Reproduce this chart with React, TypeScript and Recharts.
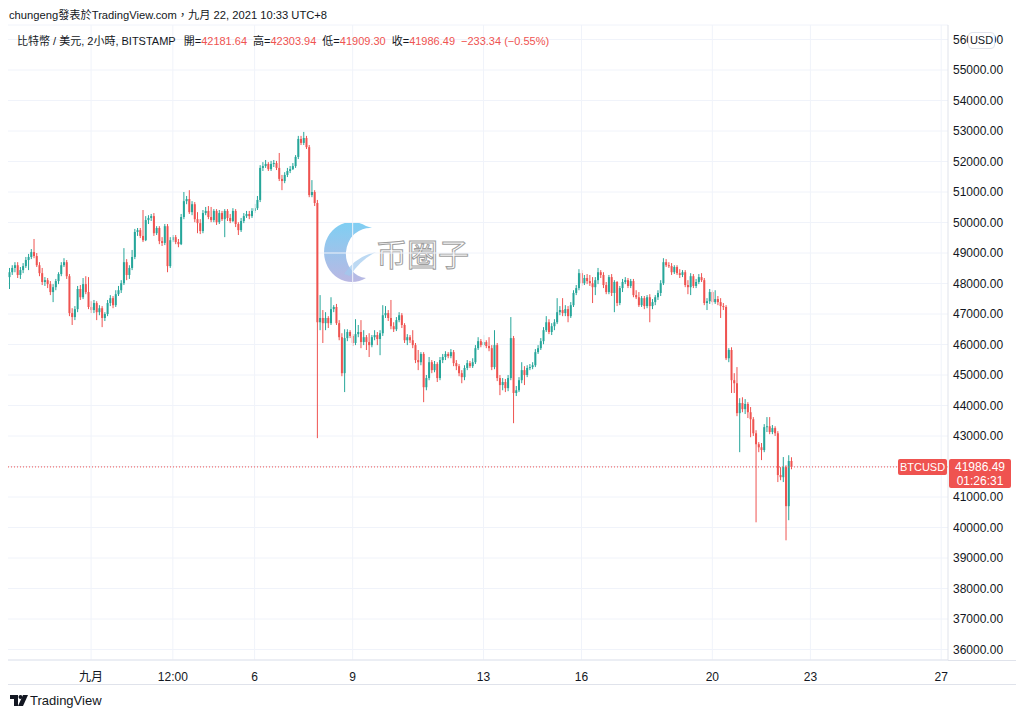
import React from 'react';
import { ComposedChart, Bar, XAxis, YAxis, CartesianGrid, ReferenceLine } from 'recharts';

const UP = '#26a69a';
const DOWN = '#ef5350';
const GRID = '#f0f3fa';
const TEXT = '#131722';
const FONT = '"Liberation Sans", "Noto Sans CJK TC", Arial, sans-serif';

// bar index 0 = 九月 1, 00:00 (2-hour bars)
const firstBar = -30;
const lastSlot = 314;

const opens = [
  48210,48370,48510,48600,48280,48440,48570,48770,48870,49030,
  48900,48600,48340,48050,48110,47980,47720,47880,48080,48310,
  48600,48700,48240,47030,46900,47160,47820,47550,47980,47720,
  47230,47130,47360,47060,47190,46870,47000,47360,47520,47290,
  47650,47780,48010,48700,48280,48510,48870,49690,49750,49560,
  49420,50080,50150,50210,49650,49820,49390,49330,49880,48570,
  49420,49520,49360,49290,50180,50700,50770,50340,50600,50110,
  49980,49720,50310,50380,50180,50080,50380,50010,50310,50110,
  50380,50150,50050,50380,49950,49750,50050,50210,50280,50210,
  50380,50470,50740,51790,51850,51920,51750,51920,51950,51790,
  51430,51360,51560,51690,51750,51850,52150,52740,52610,52770,
  52470,50900,51000,50640,46730,46870,46700,46870,46700,47160,
  47230,46700,46240,45060,46210,46410,46280,46050,46340,46410,
  46080,46240,46080,45980,46240,46310,46180,46370,46960,47030,
  46870,46600,46500,46800,46960,46640,46140,46240,46140,45980,
  45490,45420,45690,44600,44900,45420,45160,45360,44900,45490,
  45590,45690,45620,45750,45390,45290,45060,44930,45230,45390,
  45290,45420,45880,46110,45980,46080,45950,45880,45260,45980,
  44900,44670,44770,44570,44900,46210,44410,44500,44830,45160,
  45000,45230,45260,45320,45750,45880,46110,46470,46730,46410,
  46600,46730,47060,47130,47030,47160,46930,47290,47690,47850,
  48340,48010,48180,48080,48010,47880,48110,48370,48280,47950,
  47720,48210,47690,48050,47360,47850,48050,48110,47920,48080,
  47620,47550,47290,47520,47260,47550,47260,47390,47550,47690,
  48010,48700,48600,48570,48370,48540,48340,48280,48370,47950,
  47880,48240,47920,48050,48210,48110,47360,47420,47720,47390,
  47490,47390,47260,47230,45550,45820,44830,44730,43750,44080,
  43880,44050,43780,43550,43090,42730,42630,42540,43290,43320,
  43130,43260,43090,41720,41650,41980,40700,42181.64,
];

const highs = [
  48510,48600,48700,48700,48540,48670,48870,48970,49130,49460,
  49000,48700,48510,48210,48180,48080,47980,48150,48370,48700,
  48830,48770,48310,47190,47260,47920,47950,48180,48240,48210,
  47420,47460,47420,47290,47260,47060,47460,47620,47590,47780,
  47920,48110,49160,48800,48600,49100,49790,49820,49820,50410,
  50210,50240,50280,50310,49880,49880,49520,49950,49950,49520,
  49590,49590,49460,50280,51000,50870,51060,50700,50670,50340,
  50110,50410,50510,50540,50510,50440,50440,50410,50380,50440,
  50440,50280,50470,50440,50010,50150,50310,50380,50380,50470,
  50610,50870,51880,51980,52050,51980,52020,52050,52020,52280,
  51560,51650,51790,51850,51950,52210,52840,52840,52970,52840,
  52540,51390,51060,50740,47620,47130,47060,46930,47550,47290,
  47330,46800,46370,46500,46500,46470,46340,46830,46640,46800,
  46470,46310,46370,46310,46470,46410,46470,47290,47260,47130,
  47460,46730,46900,47060,47030,46700,46340,46310,46470,46050,
  45820,45750,45750,45000,45590,45490,45460,45420,45590,45690,
  45780,45750,45850,45820,45490,45360,45160,45320,45490,45460,
  45550,45980,46240,46180,46310,46140,46240,45980,46470,46050,
  45000,44900,44870,45000,46900,46280,44640,44930,45420,45290,
  45320,45360,45420,45850,45980,46210,46570,46930,46830,46700,
  46830,47520,47260,47520,47290,47260,47390,47780,47950,48470,
  48440,48280,48310,48280,48210,48210,48510,48440,48370,48050,
  48280,48310,48110,48080,47920,48150,48210,48180,48150,48150,
  47780,47720,47590,47590,47620,47650,47490,47620,47780,48110,
  48830,48800,48700,48670,48600,48600,48470,48440,48440,48110,
  48340,48310,48150,48310,48340,48180,47520,47820,47780,47780,
  47590,47520,47360,47290,45880,45910,45060,45260,44240,44270,
  44210,44110,43950,43620,43190,42800,42770,43390,43620,43620,
  43360,43320,43160,41980,42310,42040,42370,42303.94,
];

const lows = [
  47820,48280,48370,48180,48150,48340,48510,48440,48800,48830,
  48540,48240,47950,47920,47850,47620,47390,47780,47980,48240,
  48540,48150,46930,46640,46800,47060,47460,47490,47650,47160,
  47030,47030,46800,46960,46570,46770,46930,47260,47190,47230,
  47590,47690,47950,48110,48150,48440,48800,49560,49490,49360,
  49390,49950,50050,49560,49590,49290,49230,49260,48370,48510,
  49360,49290,49190,49260,50110,50600,50280,50240,50010,49650,
  49620,49650,50240,50110,50010,50010,49920,49950,50050,49520,
  50050,49980,50010,49850,49590,49690,49980,50150,50110,50150,
  50310,50410,50670,51690,51790,51690,51690,51820,51720,51360,
  51060,51290,51490,51620,51720,51790,52080,52540,52540,52410,
  50830,50830,50540,42930,46470,46050,46470,46540,46640,47060,
  46640,46140,44960,44440,46110,46210,45950,45980,46240,45880,
  45980,45820,45590,45910,46140,45980,45650,46280,46870,46770,
  46500,46410,46440,46730,46540,46050,45980,46050,45880,45390,
  45160,45320,44110,44500,44830,45060,45090,44770,44830,45390,
  45490,45550,45550,45290,45160,44960,44730,44830,45160,45230,
  45230,45360,45820,45910,45910,45880,45780,45160,45190,44800,
  44340,44500,44440,44470,44830,43420,44310,44440,44730,44670,
  44930,45160,45190,45260,45690,45820,46010,46410,46340,46310,
  46470,46670,46960,46930,46930,46730,46870,47230,47620,47780,
  47920,47950,47980,47920,47360,47620,47980,48180,47850,47650,
  47650,47590,47060,47260,47290,47720,47980,47850,47850,47550,
  47490,47230,47230,47160,47190,46730,47160,47290,47460,47590,
  47950,48540,48510,48280,48310,48280,48180,48210,47880,47650,
  47620,47850,47850,47980,48050,47290,47130,47330,47290,47330,
  47290,46870,47130,45490,45420,44410,44410,43650,42470,43780,
  43720,43590,42960,43000,40170,42470,42210,42470,43130,43060,
  43060,43000,41490,41550,41490,39580,40240,41909.30,
];

const closes = [
  48370,48510,48600,48280,48440,48570,48770,48870,49030,48900,
  48600,48340,48050,48110,47980,47720,47880,48080,48310,48600,
  48700,48240,47030,46900,47160,47820,47550,47980,47720,47230,
  47130,47360,47060,47190,46870,47000,47360,47520,47290,47650,
  47780,48010,48700,48280,48510,48870,49690,49750,49560,49420,
  50080,50150,50210,49650,49820,49390,49330,49880,48570,49420,
  49520,49360,49290,50180,50700,50770,50340,50600,50110,49980,
  49720,50310,50380,50180,50080,50380,50010,50310,50110,50380,
  50150,50050,50380,49950,49750,50050,50210,50280,50210,50380,
  50470,50740,51790,51850,51920,51750,51920,51950,51790,51430,
  51360,51560,51690,51750,51850,52150,52740,52610,52770,52470,
  50900,51000,50640,46730,46870,46700,46870,46700,47160,47230,
  46700,46240,45060,46210,46410,46280,46050,46340,46410,46080,
  46240,46080,45980,46240,46310,46180,46370,46960,47030,46870,
  46600,46500,46800,46960,46640,46140,46240,46140,45980,45490,
  45420,45690,44600,44900,45420,45160,45360,44900,45490,45590,
  45690,45620,45750,45390,45290,45060,44930,45230,45390,45290,
  45420,45880,46110,45980,46080,45950,45880,45260,45980,44900,
  44670,44770,44570,44900,46210,44410,44500,44830,45160,45000,
  45230,45260,45320,45750,45880,46110,46470,46730,46410,46600,
  46730,47060,47130,47030,47160,46930,47290,47690,47850,48340,
  48010,48180,48080,48010,47880,48110,48370,48280,47950,47720,
  48210,47690,48050,47360,47850,48050,48110,47920,48080,47620,
  47550,47290,47520,47260,47550,47260,47390,47550,47690,48010,
  48700,48600,48570,48370,48540,48340,48280,48370,47950,47880,
  48240,47920,48050,48210,48110,47360,47420,47720,47390,47490,
  47390,47260,47230,45550,45820,44830,44730,43750,44080,43880,
  44050,43780,43550,43090,42730,42630,42540,43290,43320,43130,
  43260,43090,41720,41650,41980,40700,42180,41986.49,
];

const tickBars = [0, 30, 60, 96, 144, 180, 228, 264, 312];
const tickLabels = ['九月', '12:00', '6', '9', '13', '16', '20', '23', '27'];
const yTicks = [36000, 37000, 38000, 39000, 40000, 41000, 42000, 43000, 44000, 45000, 46000, 47000, 48000, 49000, 50000, 51000, 52000, 53000, 54000, 55000, 56000];
const yDomain = [35656, 56476];
const lastPrice = 41986.49;
const symbolLabel = 'BTCUSD';
const countdown = '01:26:31';
const legendTitle = '比特幣 / 美元, 2小時, BITSTAMP';
const legendKeys = ['開', '高', '低', '收'];
const legendValues = ['42181.64', '42303.94', '41909.30', '41986.49'];
const legendChange = '−233.34 (−0.55%)';

type Row = { t: number; o?: number; h?: number; l?: number; c?: number };
const data: Row[] = [];
for (let t = firstBar; t <= lastSlot; t++) {
  const i = t - firstBar;
  if (i < opens.length) data.push({ t, o: opens[i], h: highs[i], l: lows[i], c: closes[i] });
  else data.push({ t });
}

const Candle = (props: any) => {
  const { x, y, width, height, payload } = props;
  if (!payload || payload.o == null || y == null || isNaN(y) || isNaN(height)) return null;
  const { o, h, l, c } = payload;
  const color = c >= o ? UP : DOWN;
  const cx = x + width / 2;
  const k = h === l ? 0 : height / (h - l);
  const yo = y + (h - o) * k;
  const yc = y + (h - c) * k;
  const top = Math.min(yo, yc);
  const bh = Math.max(1, Math.abs(yo - yc));
  return (
    <g>
      <line x1={cx} x2={cx} y1={y} y2={y + height} stroke={color} strokeWidth={1} />
      <rect x={cx - 1} y={top} width={2} height={bh} fill={color} />
    </g>
  );
};

const XTick = (props: any) => {
  const { x, y, payload } = props;
  const idx = tickBars.indexOf(payload.value);
  if (idx < 0) return <g />;
  return (
    <text x={x} y={y + 13} textAnchor="middle" fontSize={12} fill={TEXT} fontFamily={FONT}>
      {tickLabels[idx]}
    </text>
  );
};

// price-scale labels; the one under the last-price badge is covered in the reference
const YTick = (props: any) => {
  const { x, y, payload } = props;
  if (Math.abs(payload.value - lastPrice) < 500) return <g />;
  return (
    <text x={x} y={y} dy="0.355em" textAnchor="start" fontSize={12} fill={TEXT} fontFamily={FONT}>
      {Number(payload.value).toFixed(2)}
    </text>
  );
};

const PriceLabel = (props: any) => {
  const vb = props.viewBox;
  if (!vb) return null;
  const right = vb.x + vb.width;
  const y = vb.y;
  return (
    <g fontFamily={FONT}>
      <rect x={right - 50} y={y - 8} width={49} height={16} rx={2} fill={DOWN} />
      <text x={right - 25.5} y={y + 4} textAnchor="middle" fill="#fff" fontSize={11}>{symbolLabel}</text>
      <rect x={right + 1} y={y - 8} width={62} height={29} rx={2} fill={DOWN} />
      <text x={right + 32} y={y + 4} textAnchor="middle" fill="#fff" fontSize={12}>{lastPrice.toFixed(2)}</text>
      <text x={right + 32} y={y + 18} textAnchor="middle" fill="#fff" fontSize={12}>{countdown}</text>
    </g>
  );
};

const Header = () => (
  <div style={{ position: 'absolute', left: 0, top: 0, width: 1024, height: 60, zIndex: 3, pointerEvents: 'none', fontFamily: FONT, color: TEXT }}>
    <div style={{ position: 'absolute', left: 9, top: 8, fontSize: 11.2, lineHeight: '15px', whiteSpace: 'nowrap' }}>
      chungeng發表於TradingView.com，九月 22, 2021 10:33 UTC+8
    </div>
    <div style={{ position: 'absolute', left: 17, top: 34, fontSize: 11, lineHeight: '15px', whiteSpace: 'nowrap', display: 'flex' }}>
      <span>{legendTitle}</span>
      {legendKeys.map((k, i) => (
        <span key={k} style={{ marginLeft: i === 0 ? 8 : 6 }}>
          {k}=<span style={{ color: DOWN }}>{legendValues[i]}</span>
        </span>
      ))}
      <span style={{ marginLeft: 6, color: DOWN }}>{legendChange}</span>
    </div>
    <div style={{ position: 'absolute', left: 968, top: 32, width: 25, height: 15, background: '#fff', border: '1px solid #e0e3eb', borderRadius: 4, fontSize: 11, lineHeight: '15px', textAlign: 'center' }}>
      USD
    </div>
  </div>
);

const Watermark = () => (
  <svg style={{ position: 'absolute', left: 316, top: 218, zIndex: 0 }} width={170} height={70}>
    <defs>
      <linearGradient id="wm" x1="0" y1="0" x2="0" y2="1">
        <stop offset="0%" stopColor="#5ec3f0" />
        <stop offset="100%" stopColor="#a9a6dc" />
      </linearGradient>
    </defs>
    <path d="M 50 8 A 28 30 0 1 0 50 60 A 22 24 0 0 1 30 34 A 24 26 0 0 1 56 10 Z" fill="url(#wm)" opacity={0.8} />
    <path d="M 28 56 Q 40 38 60 34 Q 44 42 34 58 Z" fill="#9fc9ee" opacity={0.7} />
    <text x={60} y={48} fontSize={31} fill="#fff" stroke="#9e9e9e" strokeWidth={1} fontFamily='"Noto Sans CJK SC", sans-serif'>币圈子</text>
  </svg>
);

const Footer = () => (
  <div style={{ position: 'absolute', left: 0, top: 684, width: 1024, height: 34, fontFamily: FONT }}>
    <div style={{ position: 'absolute', left: 8, top: 0, width: 1008, height: 1, background: '#e0e3eb' }} />
    <svg style={{ position: 'absolute', left: 10, top: 11 }} width={20} height={14}>
      <path d="M0 0 H8 V11 H4 V4 H0 Z" fill={TEXT} />
      <circle cx={10.5} cy={2} r={2} fill={TEXT} />
      <path d="M13 0 H18 L13 11 H8 Z" fill={TEXT} />
    </svg>
    <div style={{ position: 'absolute', left: 30, top: 9, fontSize: 13, lineHeight: '16px', color: TEXT }}>TradingView</div>
  </div>
);

export default function App() {
  return (
    <div style={{ position: 'absolute', left: 0, top: 0, width: 1024, height: 718, background: '#fff', overflow: 'hidden' }}>
      <Watermark />
      <div style={{ position: 'absolute', left: 948, top: 660, width: 68, height: 1, background: '#e0e3eb' }} />
      <div style={{ position: 'absolute', left: 0, top: 0, zIndex: 1 }}>
        <ComposedChart width={1024} height={684} data={data} margin={{ top: 25, right: 0, bottom: 0, left: 8 }} barCategoryGap={0}>
          <CartesianGrid vertical={false} stroke={GRID} />
          {tickBars.map((t) => (
            <ReferenceLine key={t} x={t} stroke={GRID} />
          ))}
          <XAxis dataKey="t" type="category" interval={0} height={24} tickLine={false} axisLine={{ stroke: '#e0e3eb' }} tick={<XTick />} />
          <YAxis
            orientation="right"
            type="number"
            domain={yDomain}
            allowDataOverflow
            ticks={yTicks}
            interval={0}
            width={76}
            tickLine={false}
            tickSize={0}
            tickMargin={5}
            axisLine={{ stroke: '#e0e3eb' }}
            tick={<YTick />}
          />
          <ReferenceLine y={lastPrice} stroke={DOWN} strokeDasharray="1 2" label={<PriceLabel />} />
          <Bar
            dataKey={(d: Row) => (d.o == null ? null : [d.l, d.h])}
            shape={<Candle />}
            isAnimationActive={false}
          />
        </ComposedChart>
      </div>
      <Header />
      <Footer />
    </div>
  );
}
